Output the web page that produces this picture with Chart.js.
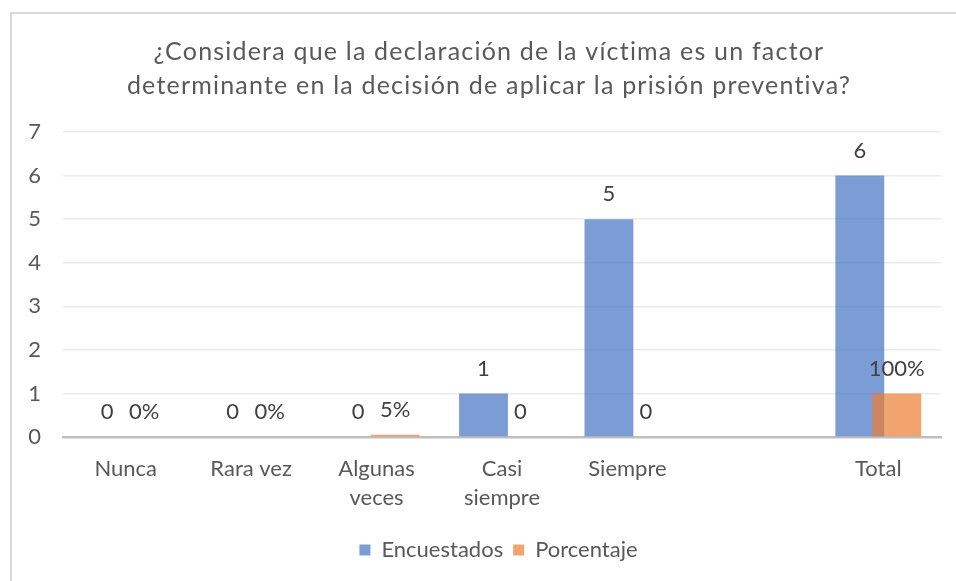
<!DOCTYPE html>
<html>
<head>
<meta charset="utf-8">
<script src="https://cdn.jsdelivr.net/npm/chart.js@4.4.1/dist/chart.umd.min.js"></script>
<style>
  html, body { margin: 0; padding: 0; background: #fff; overflow: hidden; }
  #frame { position: absolute; left: 10px; top: 12px; width: 1000px; height: 700px;
           border-left: 2px solid #d9d9d9; border-top: 2px solid #d9d9d9; }
  #wrap { position: absolute; left: 0; top: 0; width: 956px; height: 581px; }
</style>
</head>
<body>
<div id="frame"></div>
<div id="wrap"><canvas id="chart"></canvas></div>
<script>
const titleLines = ['¿Considera que la declaración de la víctima es un factor',
                    'determinante en la decisión de aplicar la prisión preventiva?'];
const categories = ['Nunca', 'Rara vez', ['Algunas', 'veces'], ['Casi', 'siempre'], 'Siempre', '', 'Total'];
const encuestados = [0, 0, 0, 1, 5, null, 6];
const porcentaje = [0, 0, 0.05, 0, 0, null, 1];
const encuestadosLabels = ['0', '0', '0', '1', '5', null, '6'];
const porcentajeLabels = ['0%', '0%', '5%', '0', '0', null, '100%'];
const yTicks = [0, 1, 2, 3, 4, 5, 6, 7];

const FONT = "Lato, 'Open Sans', sans-serif";
const TEXT = '#595959';

// titulo espaciado (Chart.js no tiene letterSpacing)
const spacedTitle = {
    id: 'spacedTitle',
    afterDraw(chart) {
        const ctx = chart.ctx;
        ctx.save();
        ctx.font = '25px ' + FONT;
        ctx.letterSpacing = '1.2px';
        ctx.fillStyle = TEXT;
        ctx.textAlign = 'center';
        ctx.textBaseline = 'middle';
        ctx.fillText(titleLines[0], 489, 52);
        ctx.fillText(titleLines[1], 489, 86);
        ctx.restore();
    }
};

// etiquetas de datos + porcentaje dibujado encima de encuestados
const valueLabels = {
    id: 'valueLabels',
    beforeDatasetDraw(chart, args) {
        if (args.index === 0) return false;
        if (args.index === 1) chart.getDatasetMeta(0).controller.draw();
    },
    afterLayout(chart) {
        chart.legend.left += 28;
        chart.legend.right += 28;
    },
    afterDatasetsDraw(chart) {
        const ctx = chart.ctx;
        const lists = [encuestadosLabels, porcentajeLabels];
        ctx.save();
        ctx.font = '22px ' + FONT;
        ctx.fillStyle = '#404040';
        ctx.textAlign = 'center';
        ctx.textBaseline = 'middle';
        chart.data.datasets.forEach((ds, i) => {
            const meta = chart.getDatasetMeta(i);
            meta.data.forEach((bar, j) => {
                const txt = lists[i][j];
                if (txt == null) return;
                ctx.fillText(txt, bar.x, bar.y - 25);
            });
        });
        ctx.restore();
    }
};

const data = {
    labels: categories,
    datasets: [{
        label: 'Encuestados',
        data: encuestados,
        backgroundColor: 'rgba(68, 114, 196, 0.7)',
        categoryPercentage: 0.59,
        barPercentage: 1.32
    }, {
        label: 'Porcentaje',
        data: porcentaje,
        backgroundColor: 'rgba(237, 125, 49, 0.7)',
        categoryPercentage: 0.59,
        barPercentage: 1.32
    }]
};

const config = {
    type: 'bar',
    data: data,
    plugins: [valueLabels, spacedTitle],
    options: {
        responsive: true,
        maintainAspectRatio: false,
        animation: false,
        layout: { padding: { left: 0, right: 15, top: 132, bottom: 10 } },
        plugins: {
            title: { display: false },
            legend: {
                position: 'bottom',
                labels: {
                    color: TEXT,
                    font: { family: FONT, size: 22 },
                    boxWidth: 11,
                    boxHeight: 11,
                    padding: 10
                }
            },
            tooltip: { enabled: false }
        },
        scales: {
            x: {
                grid: { display: false },
                border: { display: true, color: '#bfbfbf', width: 2.5 },
                ticks: { color: TEXT, font: { family: FONT, size: 22, lineHeight: 1.3 }, padding: 10, maxRotation: 0, autoSkip: false },
                afterFit(scale) { scale.height = 92; }
            },
            y: {
                min: 0,
                max: 7,
                afterBuildTicks(scale) { scale.ticks = yTicks.map(v => ({ value: v })); },
                grid: { color: '#ececec', lineWidth: 1.5, drawTicks: false },
                border: { display: false },
                ticks: { color: TEXT, font: { family: FONT, size: 22 }, padding: 22 },
                afterFit(scale) { scale.width = 63; }
            }
        }
    }
};

const chart = new Chart(document.getElementById('chart'), config);
</script>
</body>
</html>
